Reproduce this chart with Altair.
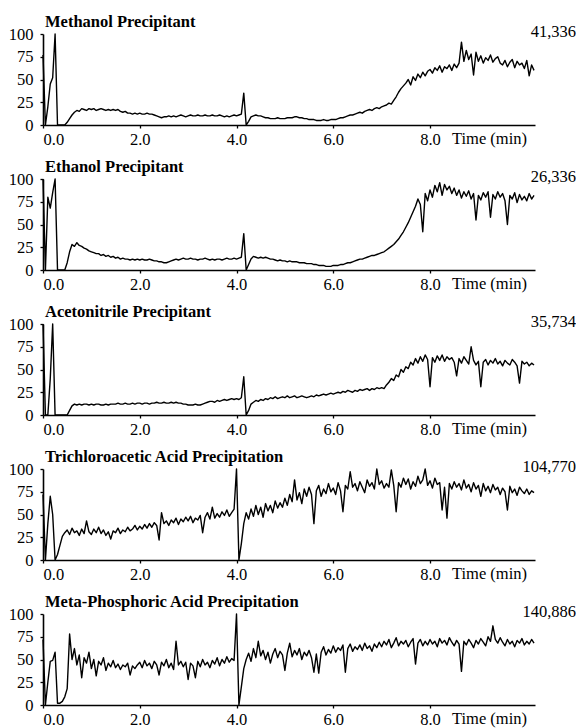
import altair as alt
import pandas as pd

STEP = 0.05  # sampling interval of the traces, minutes

methanol = [
    77, 0, 20, 45, 52, 100, 0, 0, 0, 0,
    3, 7, 11, 14, 16, 15, 18, 17, 16, 18,
    17, 18, 16, 17, 18, 17, 16, 17, 16, 17,
    16, 17, 15, 14, 15, 13, 13, 12, 13, 12,
    13, 12, 12, 13, 12, 12, 11, 10, 9, 8,
    9, 9, 10, 9, 10, 9, 10, 11, 10, 9,
    10, 11, 10, 10, 11, 10, 10, 11, 10, 10,
    11, 10, 10, 11, 10, 9, 10, 9, 10, 11,
    10, 11, 12, 35, 0, 4, 9, 10, 11, 10,
    10, 9, 8, 8, 7, 7, 7, 8, 7, 7,
    7, 8, 8, 8, 9, 9, 8, 8, 7, 7,
    6, 6, 6, 5, 5, 5, 6, 5, 5, 6,
    6, 6, 7, 8, 8, 9, 10, 11, 11, 12,
    13, 14, 13, 15, 16, 17, 16, 18, 19, 18,
    20, 21, 22, 24, 23, 27, 31, 36, 40, 43,
    46, 50, 44, 53, 49, 56, 52, 58, 54, 59,
    61, 57, 63, 60, 65, 58, 64, 62, 66, 60,
    67, 63, 68, 91, 70, 82, 72, 78, 55, 80,
    70, 76, 68, 74, 71, 77, 69, 73, 75, 68,
    66, 71, 64, 69, 72, 63, 70, 66, 68, 62,
    71, 54, 66, 60,
]

ethanol = [
    100, 0, 80, 68, 85, 100, 0, 0, 0, 0,
    8, 20, 28, 26, 30, 27, 26, 24, 23, 21,
    20, 19, 18, 18, 16, 17, 15, 16, 14, 15,
    13, 14, 12, 13, 12, 12, 11, 12, 11, 12,
    11, 12, 11, 11, 12, 11, 10, 10, 9, 9,
    8, 8, 9, 10, 11, 12, 11, 12, 13, 12,
    12, 13, 12, 12, 11, 12, 12, 13, 12, 11,
    12, 11, 12, 12, 11, 12, 13, 12, 12, 13,
    12, 13, 14, 40, 0, 6, 12, 15, 14, 13,
    14, 13, 14, 13, 12, 12, 11, 10, 11, 10,
    10, 9, 10, 9, 9, 9, 8, 8, 8, 7,
    7, 7, 6, 6, 5, 5, 5, 4, 4, 4,
    5, 5, 5, 6, 6, 7, 8, 8, 9, 10,
    11, 12, 12, 13, 14, 15, 16, 16, 17, 18,
    19, 20, 22, 24, 26, 28, 31, 34, 38, 42,
    47, 52, 58, 64, 70, 78, 72, 42, 84, 76,
    88, 80, 93, 86, 96, 82, 94, 88, 92, 84,
    90, 82, 88, 79, 86, 81, 87, 78, 84, 55,
    82, 77, 85, 80, 86, 58, 83, 78, 86, 80,
    84, 76, 50, 82, 78, 85, 74, 83, 77, 81,
    76, 84, 78, 82,
]

acetonitrile = [
    100, 0, 0, 40, 100, 0, 0, 0, 0, 0,
    0, 5, 10, 12, 11, 12, 11, 12, 12, 11,
    12, 11, 12, 12, 11, 11, 12, 11, 12, 12,
    12, 13, 12, 12, 13, 12, 12, 13, 12, 13,
    13, 12, 13, 13, 12, 13, 13, 14, 13, 13,
    14, 13, 13, 14, 13, 14, 13, 13, 12, 12,
    11, 11, 11, 12, 11, 11, 12, 13, 14, 15,
    15, 14, 16, 15, 16, 17, 16, 17, 18, 17,
    18, 17, 19, 42, 0, 5, 12, 14, 16, 15,
    17, 16, 18, 17, 19, 18, 20, 18, 19, 20,
    19, 21, 19, 20, 21, 19, 20, 21, 20, 19,
    20, 21, 20, 22, 21, 22, 23, 22, 23, 24,
    23, 24, 25, 24, 26, 25, 27, 26, 25, 27,
    26, 28, 27, 28, 29, 27, 29, 28, 30, 29,
    30, 29, 33, 36, 40, 38, 44, 42, 50, 47,
    53, 51, 58, 55, 62, 57, 64, 59, 66, 61,
    31, 63, 58, 65, 60, 66, 59, 64, 61, 63,
    58, 43, 62, 57, 64, 60, 56, 75, 60, 55,
    59, 31, 58, 61, 55, 60, 57, 62, 56, 59,
    54, 60, 57, 55, 61, 58, 54, 35, 59, 56,
    58, 54, 57, 55,
]

trichloroacetic = [
    72, 0, 40, 70, 50, 0, 6, 16, 26, 30,
    33, 28, 35, 30, 32, 27, 34, 29, 43, 31,
    28, 34, 30, 36, 29, 33, 27, 31, 23, 32,
    30, 35, 29, 33, 31, 36, 32, 34, 38, 33,
    37, 34, 39, 35, 40, 36, 41, 38, 22, 52,
    40, 43, 38, 44, 41, 46, 39, 45, 42, 47,
    43, 48, 41, 46, 44, 49, 30, 47, 52, 45,
    58, 46, 51, 47, 53, 49, 55, 48, 52, 56,
    100, 0, 18, 40, 52, 45, 56, 48, 60, 50,
    58, 47, 62, 54, 60, 52, 65, 57, 63, 58,
    68, 60, 72, 64, 88, 66, 74, 62, 78, 70,
    80, 72, 40, 76, 82, 70, 78, 73, 84, 75,
    79, 72, 85, 76, 53, 82, 78, 97, 80, 84,
    76, 86, 80, 74, 88, 81, 85, 78, 100, 83,
    87, 79, 84, 80, 99, 82, 53, 85, 80, 90,
    83, 89, 78, 86, 81, 92, 84, 88, 100, 82,
    87, 79, 90, 83, 85, 55, 80, 46, 84, 78,
    86, 80, 84, 77, 88, 79, 83, 75, 85, 78,
    82, 70, 84, 76, 81, 74, 83, 77, 80, 72,
    79, 75, 55, 81, 74, 78, 71, 80, 76, 73,
    78, 72, 76, 74,
]

metaphosphoric = [
    72, 0, 25, 48, 49, 58, 2, 2, 4, 9,
    18, 78, 50, 62, 44, 55, 30, 52, 46, 58,
    40, 50, 32, 48, 44, 52, 38, 46, 42, 49,
    41, 45, 39, 44, 42, 46, 33, 43, 40, 44,
    47, 41, 49, 43, 46, 40, 48, 44, 33, 47,
    43, 50, 41, 46, 39, 70, 44, 48, 42, 47,
    28, 46, 43, 30, 48, 42, 50, 44, 47, 41,
    49, 45, 52, 43, 50, 46, 53, 47, 51, 49,
    100, 0, 20, 40, 50, 57, 48, 62, 52, 70,
    54, 60, 50, 58, 46, 56, 62, 52, 59, 55,
    38, 57, 68, 53, 60, 55, 62, 50, 58, 54,
    60, 52, 36, 56, 35, 58, 64, 55, 61, 57,
    65, 58, 63, 60, 66, 36, 62, 67, 59, 64,
    61, 66, 60, 68, 62, 65, 59, 67, 63, 69,
    64, 70, 66, 72, 63, 68, 74, 65, 70, 67,
    71, 64, 69, 73, 45, 68, 72, 65, 70, 66,
    72, 67, 70, 64, 73, 68, 71, 66, 74, 69,
    65, 71, 67, 37, 70, 66, 72, 68, 63, 71,
    67, 73, 69, 65, 75, 70, 87, 72, 68, 74,
    69, 65, 72, 67, 70, 64, 71, 68, 73, 66,
    70, 67, 72, 68,
]

titles = [
    "Methanol Precipitant",
    "Ethanol Precipitant",
    "Acetonitrile Precipitant",
    "Trichloroacetic Acid Precipitation",
    "Meta-Phosphoric Acid Precipitation",
]
totals = ["41,336", "26,336", "35,734", "104,770", "140,886"]
series = [methanol, ethanol, acetonitrile, trichloroacetic, metaphosphoric]
x_ticks = [0, 2, 4, 6, 8]
y_ticks = [0, 25, 50, 75, 100]
x_label = "Time (min)"

W, H = 492, 91
FONT = "'Liberation Serif', 'Times New Roman', Times, serif"
FS = 16.5


def panel(values, title, total):
    df = pd.DataFrame({
        "t": [round(i * STEP, 3) for i in range(len(values))],
        "v": values,
    })
    line = alt.Chart(df).mark_line(
        color="black", strokeWidth=1.4, strokeJoin="round"
    ).encode(
        x=alt.X("t:Q", scale=alt.Scale(domain=[0, 10.17], nice=False, zero=False),
                axis=alt.Axis(values=x_ticks, format=".1f", title=None, grid=False,
                              labelPadding=3, tickSize=3)),
        y=alt.Y("v:Q", scale=alt.Scale(domain=[0, 100], nice=False),
                axis=alt.Axis(values=y_ticks, title=None, grid=False,
                              labelPadding=7, tickSize=3)),
    )
    ttl = alt.Chart(pd.DataFrame({"s": [title]})).mark_text(
        font=FONT, fontWeight="bold", fontSize=FS, align="left",
        baseline="alphabetic", color="black"
    ).encode(x=alt.value(2), y=alt.value(-7), text="s:N")
    tot = alt.Chart(pd.DataFrame({"s": [total]})).mark_text(
        font=FONT, fontSize=FS, align="right", baseline="alphabetic", color="black"
    ).encode(x=alt.value(533), y=alt.value(2.5), text="s:N")
    xl = alt.Chart(pd.DataFrame({"s": [x_label]})).mark_text(
        font=FONT, fontSize=FS, align="left", baseline="top", color="black"
    ).encode(x=alt.value(409), y=alt.value(H + 6), text="s:N")
    return alt.layer(line, ttl, tot, xl).properties(width=W, height=H)


chart = alt.vconcat(
    *[panel(v, t, n) for v, t, n in zip(series, titles, totals)],
    spacing=54, bounds="flush"
).properties(
    padding={"left": 0, "top": 6, "right": 0, "bottom": 0}
).configure_view(stroke=None).configure_axis(
    domainColor="black", domainWidth=1.6, tickColor="black", tickWidth=1.3,
    labelColor="black", labelFont=FONT, labelFontSize=FS,
)

chart.save("out.html", embed_options={"renderer": "svg", "actions": False})
